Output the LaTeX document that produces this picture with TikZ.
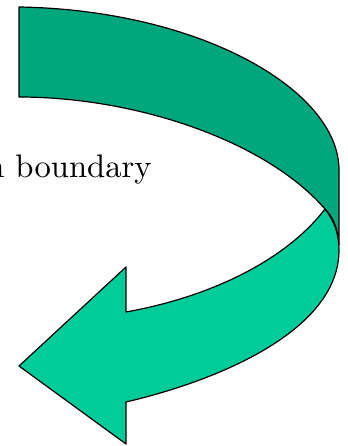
\documentclass[tikz,border=0pt]{standalone}
\usepackage{tikz}
\usepackage{graphicx}
\definecolor{backgreen}{RGB}{0,166,124}
\definecolor{frontgreen}{RGB}{0,204,153}

\begin{document}
\begin{tikzpicture}[
 x=0.75pt,y=-0.75pt,
 band/.style={draw=black,line width=0.9pt,line join=round},
 lbl/.style={font=\fontsize{10}{12}\selectfont,inner sep=0pt}]
\useasboundingbox (0,0) rectangle (348,446);
% back side of the ribbon
\draw[band,fill=backgreen] (19,7) .. controls (200,10) and (339,90) .. (339,170)
 -- (339,245) .. controls (338,228) and (333,217) .. (325,209)
 .. controls (265,140) and (135,97) .. (19,97) -- cycle;
% front side with the head
\draw[band,fill=frontgreen] (325,209) .. controls (335,222) and (339,235) .. (339,250)
 .. controls (339,330) and (220,380) .. (126,402)
 -- (126,444) -- (19,366) -- (126,267) -- (126,312)
 .. controls (220,295) and (290,255) .. cycle;
\node[lbl,anchor=base east] (bnd) at (152,177) {\scalebox{2.45}{n boundary}};
\end{tikzpicture}
\end{document}
